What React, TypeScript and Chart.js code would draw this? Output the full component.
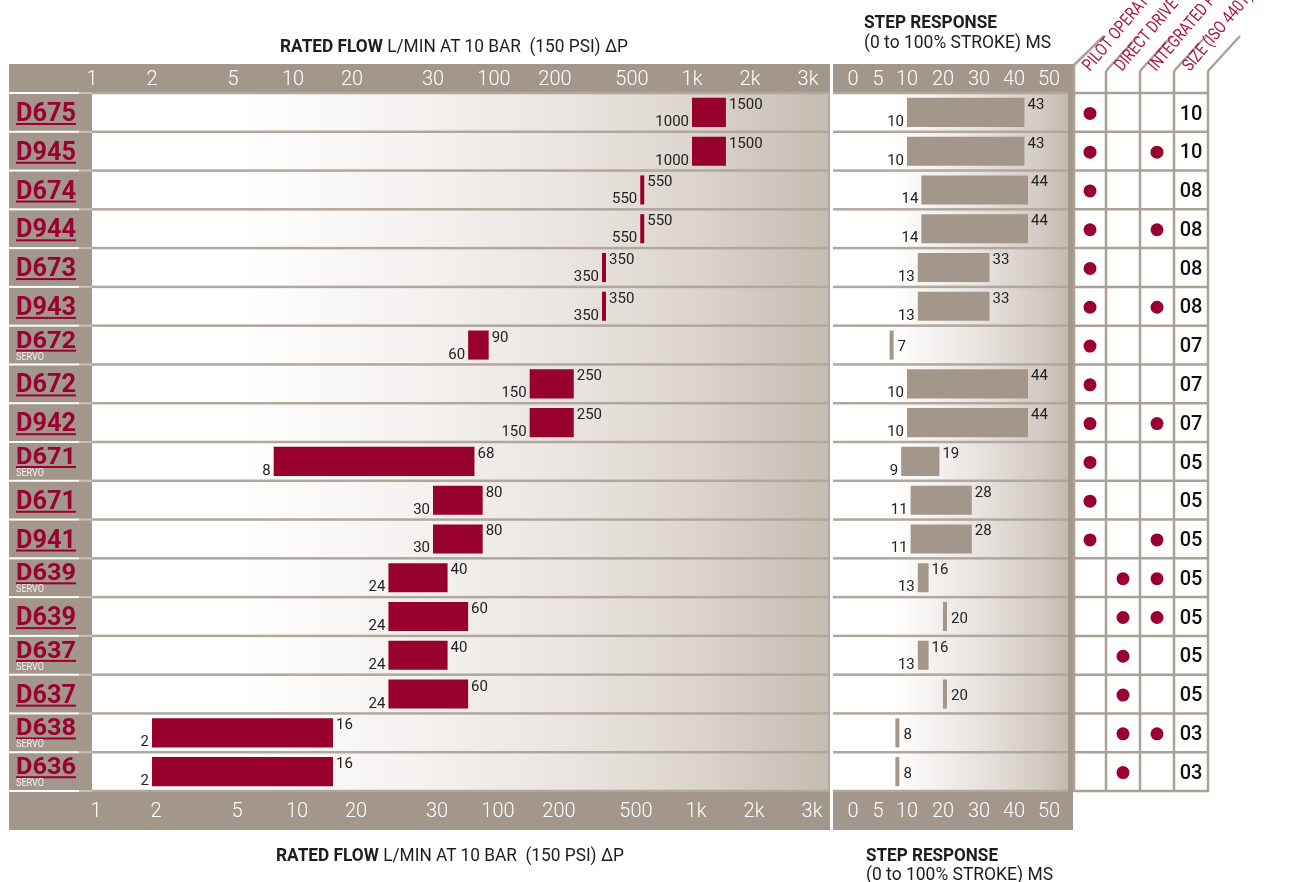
import React, { useEffect, useRef } from 'react';
import { Chart, registerables } from 'chart.js';

Chart.register(...registerables);

// ---------------- data ----------------
const MODELS = ['D675', 'D945', 'D674', 'D944', 'D673', 'D943', 'D672', 'D672', 'D942', 'D671', 'D671', 'D941', 'D639', 'D639', 'D637', 'D637', 'D638', 'D636'];
const SERVO = [false, false, false, false, false, false, true, false, false, true, false, false, true, false, true, false, true, true];
const FLOW_MIN = [1000, 1000, 550, 550, 350, 350, 60, 150, 150, 8, 30, 30, 24, 24, 24, 24, 2, 2];
const FLOW_MAX = [1500, 1500, 550, 550, 350, 350, 90, 250, 250, 68, 80, 80, 40, 60, 40, 60, 16, 16];
const STEP_MIN = [10, 10, 14, 14, 13, 13, 7, 10, 10, 9, 11, 11, 13, 20, 13, 20, 8, 8];
const STEP_MAX = [43, 43, 44, 44, 33, 33, 7, 44, 44, 19, 28, 28, 16, 20, 16, 20, 8, 8];
const PILOT = [1, 1, 1, 1, 1, 1, 1, 1, 1, 1, 1, 1, 0, 0, 0, 0, 0, 0];
const DIRECT = [0, 0, 0, 0, 0, 0, 0, 0, 0, 0, 0, 0, 1, 1, 1, 1, 1, 1];
const INTEGRATED = [0, 1, 0, 1, 0, 1, 0, 0, 1, 0, 0, 1, 1, 1, 0, 0, 1, 0];
const SIZES = ['10', '10', '08', '08', '08', '08', '07', '07', '07', '05', '05', '05', '05', '05', '05', '05', '03', '03'];

const FLOW_TICKS = [1, 2, 5, 10, 20, 30, 100, 200, 500, 1000, 2000, 3000];
const FLOW_TICK_LABELS = ['1', '2', '5', '10', '20', '30', '100', '200', '500', '1k', '2k', '3k'];
const STEP_TICKS = [0, 5, 10, 20, 30, 40, 50];
const STEP_TICK_LABELS = ['0', '5', '10', '20', '30', '40', '50'];

const COLUMN_HEADERS = ['PILOT OPERATED', 'DIRECT DRIVE VALVES', 'INTEGRATED PRESSURE CONTROL', 'SIZE (ISO 4401)'];

// ---------------- axis geometry (non-uniform broken axes) ----------------
const FLOW_AXIS_STOPS = [0, 60, 141, 201, 260, 341, 402, 463, 540, 600, 658, 716];
const FLOW_AXIS_MAX = 738;
const STEP_AXIS_STOPS = [20, 45, 74, 110, 146, 181, 216];
const STEP_AXIS_MAX = 235;

// ---------------- styles ----------------
const BAND = '#a3978b';
const RED = '#98002e';
const SEP = '#b1a79d';
const INK = '#1d1d1b';
const LABEL_RED = '#990033';
const HEAD_RED = '#ad1545';

const ROW_TOP = 93;
const ROW_BOTTOM = 791;
const ROW_H = (ROW_BOTTOM - ROW_TOP) / MODELS.length;
const TABLE_X = [1074, 1106, 1140, 1174, 1208];

function flowToAxis(v: number) {
  for (let i = 0; i < FLOW_TICKS.length - 1; i++) {
    const a = FLOW_TICKS[i], b = FLOW_TICKS[i + 1];
    if (v >= a && v <= b) {
      const t = Math.log(v / a) / Math.log(b / a);
      return FLOW_AXIS_STOPS[i] + t * (FLOW_AXIS_STOPS[i + 1] - FLOW_AXIS_STOPS[i]);
    }
  }
  return v < FLOW_TICKS[0] ? FLOW_AXIS_STOPS[0] : FLOW_AXIS_STOPS[FLOW_AXIS_STOPS.length - 1];
}

function stepToAxis(v: number) {
  for (let i = 0; i < STEP_TICKS.length - 1; i++) {
    const a = STEP_TICKS[i], b = STEP_TICKS[i + 1];
    if (v >= a && v <= b) {
      const t = (v - a) / (b - a);
      return STEP_AXIS_STOPS[i] + t * (STEP_AXIS_STOPS[i + 1] - STEP_AXIS_STOPS[i]);
    }
  }
  return STEP_AXIS_STOPS[STEP_AXIS_STOPS.length - 1];
}

function makeAxis(position: string, labels: string[], stops: number[], max: number, height: number, padding: number, labelOffset: number) {
  return {
    type: 'linear',
    position,
    min: 0,
    max,
    grid: { display: false, drawTicks: false },
    border: { display: false },
    afterBuildTicks: (scale: any) => {
      scale.ticks = stops.map((v) => ({ value: v }));
    },
    afterFit: (scale: any) => {
      scale.height = height;
    },
    ticks: {
      autoSkip: false,
      maxRotation: 0,
      minRotation: 0,
      padding,
      labelOffset,
      color: '#ffffff',
      font: { family: 'Roboto', size: 20, weight: '300' },
      callback: (_v: any, i: number) => labels[i],
    },
  };
}

function panelPlugin(gradientStops: [number, string][], labelColumn: boolean, rightEdge: boolean) {
  return {
    id: 'panelBg',
    beforeDraw(chart: any) {
      const { ctx, chartArea: a, width, height } = chart;
      const ys = chart.scales.y;
      ctx.save();
      ctx.fillStyle = BAND;
      ctx.fillRect(0, 0, width, height);
      const g = ctx.createLinearGradient(a.left, 0, a.right, 0);
      gradientStops.forEach(([o, c]) => g.addColorStop(o, c));
      ctx.fillStyle = g;
      ctx.fillRect(a.left, a.top, a.right - a.left, a.bottom - a.top);
      const n = MODELS.length;
      for (let i = 0; i <= n; i++) {
        const y = i === 0 ? a.top : i === n ? a.bottom : (ys.getPixelForValue(i - 1) + ys.getPixelForValue(i)) / 2;
        ctx.fillStyle = SEP;
        ctx.fillRect(a.left, y - 1.25, a.right - a.left, 2.5);
        if (labelColumn) {
          ctx.fillStyle = '#ffffff';
          ctx.fillRect(0, y - 1, 70, 2);
          ctx.fillStyle = '#c9c1b9';
          ctx.fillRect(70, y - 1, a.left - 70, 2);
        }
      }
      if (rightEdge) {
        ctx.fillStyle = SEP;
        ctx.fillRect(a.right - 2, a.top, 2, a.bottom - a.top);
      }
      ctx.restore();
    },
  };
}

function valueLabelPlugin(lo: number[], hi: number[], singleWhenEqual: boolean) {
  return {
    id: 'valueLabels',
    afterDatasetsDraw(chart: any) {
      const { ctx } = chart;
      const meta = chart.getDatasetMeta(0);
      ctx.save();
      ctx.font = '15px Roboto';
      ctx.fillStyle = '#222222';
      meta.data.forEach((bar: any, i: number) => {
        const { x, base, y, height } = bar.getProps(['x', 'base', 'y', 'height'], true);
        const left = Math.min(x, base);
        const right = Math.max(x, base);
        const top = y - height / 2;
        const bottom = y + height / 2;
        if (singleWhenEqual && lo[i] === hi[i]) {
          ctx.textAlign = 'left';
          ctx.textBaseline = 'alphabetic';
          ctx.fillText(String(hi[i]), right + 4, y + 6);
        } else {
          ctx.textBaseline = 'alphabetic';
          ctx.textAlign = 'right';
          ctx.fillText(String(lo[i]), left - 3, bottom - 1);
          ctx.textAlign = 'left';
          ctx.fillText(String(hi[i]), right + 3, top + 11);
        }
      });
      ctx.restore();
    },
  };
}

function barConfig(data: number[][], color: string, xTop: any, xBottom: any, padding: any, plugins: any[]) {
  return {
    type: 'bar',
    data: {
      labels: MODELS,
      datasets: [
        {
          data,
          backgroundColor: color,
          borderWidth: 0,
          barPercentage: 0.75,
          categoryPercentage: 1,
          minBarLength: 4,
          xAxisID: 'x',
        },
      ],
    },
    options: {
      indexAxis: 'y',
      animation: false,
      responsive: false,
      maintainAspectRatio: false,
      events: [],
      layout: { padding },
      plugins: { legend: { display: false }, tooltip: { enabled: false } },
      scales: {
        x: xTop,
        x2: xBottom,
        y: { type: 'category', display: false, offset: true },
      },
    },
    plugins,
  };
}

export default function App() {
  const flowRef = useRef<HTMLCanvasElement>(null);
  const stepRef = useRef<HTMLCanvasElement>(null);

  useEffect(() => {
    const flowData = FLOW_MIN.map((v, i) => [flowToAxis(v), flowToAxis(FLOW_MAX[i])]);
    const stepData = STEP_MIN.map((v, i) => [stepToAxis(v), stepToAxis(STEP_MAX[i])]);
    const flow = new Chart(
      flowRef.current as HTMLCanvasElement,
      barConfig(
        flowData,
        RED,
        makeAxis('top', FLOW_TICK_LABELS, FLOW_AXIS_STOPS, FLOW_AXIS_MAX, 29, 1, 0),
        makeAxis('bottom', FLOW_TICK_LABELS, FLOW_AXIS_STOPS, FLOW_AXIS_MAX, 39, 9, 4),
        { left: 83, right: 0, top: 0, bottom: 0 },
        [
          panelPlugin([[0, '#ffffff'], [0.2, '#ffffff'], [0.45, '#f4f1ef'], [0.64, '#eae5e1'], [0.82, '#dcd5ce'], [1, '#c5bbb1']], true, true),
          valueLabelPlugin(FLOW_MIN, FLOW_MAX, false),
        ],
      ) as any,
    );
    const step = new Chart(
      stepRef.current as HTMLCanvasElement,
      barConfig(
        stepData,
        BAND,
        makeAxis('top', STEP_TICK_LABELS, STEP_AXIS_STOPS, STEP_AXIS_MAX, 29, 1, 0),
        makeAxis('bottom', STEP_TICK_LABELS, STEP_AXIS_STOPS, STEP_AXIS_MAX, 39, 9, 0),
        { left: 0, right: 5, top: 0, bottom: 0 },
        [
          panelPlugin([[0, '#ffffff'], [0.25, '#ffffff'], [0.6, '#e9e5e1'], [0.88, '#d3cbc4'], [1, '#c4bab0']], false, false),
          valueLabelPlugin(STEP_MIN, STEP_MAX, true),
        ],
      ) as any,
    );
    return () => {
      flow.destroy();
      step.destroy();
    };
  }, []);

  const rowTop = (i: number) => ROW_TOP + i * ROW_H;
  const colCenter = (c: number) => (TABLE_X[c] + TABLE_X[c + 1]) / 2;
  const flags = [PILOT, DIRECT, INTEGRATED];

  return (
    <div style={{ position: 'absolute', left: 0, top: 0, width: 1311, height: 882, background: '#ffffff', overflow: 'hidden' }}>
      <canvas ref={flowRef} width={821} height={766} style={{ position: 'absolute', left: 9, top: 64, width: 821, height: 766 }} />
      <canvas ref={stepRef} width={240} height={766} style={{ position: 'absolute', left: 833, top: 64, width: 240, height: 766 }} />
      <svg width={1311} height={882} style={{ position: 'absolute', left: 0, top: 0 }} fontFamily="Roboto">
        {/* titles */}
        <text x={280} y={52} textLength={348} lengthAdjust="spacingAndGlyphs" fontSize={18.5} fill={INK} style={{ whiteSpace: 'pre' }}>
          <tspan fontWeight="bold">RATED FLOW</tspan>
          {' L/MIN AT 10 BAR  (150 PSI) ΔP'}
        </text>
        <text x={276} y={861} textLength={348} lengthAdjust="spacingAndGlyphs" fontSize={18.5} fill={INK} style={{ whiteSpace: 'pre' }}>
          <tspan fontWeight="bold">RATED FLOW</tspan>
          {' L/MIN AT 10 BAR  (150 PSI) ΔP'}
        </text>
        <text x={864} y={28} textLength={133} lengthAdjust="spacingAndGlyphs" fontSize={17.5} fontWeight="bold" fill={INK}>STEP RESPONSE</text>
        <text x={864} y={48} textLength={187} lengthAdjust="spacingAndGlyphs" fontSize={17.5} fill={INK}>(0 to 100% STROKE) MS</text>
        <text x={866} y={861} textLength={132} lengthAdjust="spacingAndGlyphs" fontSize={17.5} fontWeight="bold" fill={INK}>STEP RESPONSE</text>
        <text x={866} y={880} textLength={187} lengthAdjust="spacingAndGlyphs" fontSize={17.5} fill={INK}>(0 to 100% STROKE) MS</text>

        {/* model labels */}
        {MODELS.map((m, i) => {
          const t = rowTop(i);
          const servo = SERVO[i];
          const base = servo ? t + 22 : t + 28;
          return (
            <g key={'m' + i}>
              <text x={16} y={base} textLength={60} lengthAdjust="spacingAndGlyphs" fontSize={servo ? 23.5 : 26} fontWeight="bold" fill={LABEL_RED}>{m}</text>
              <rect x={16} y={base + 2} width={60} height={2} fill={LABEL_RED} />
              {servo && (
                <text x={16} y={t + 34} textLength={28} lengthAdjust="spacingAndGlyphs" fontSize={10} fill="#f4f1ee">SERVO</text>
              )}
            </g>
          );
        })}

        {/* table */}
        <g stroke="#aca195" strokeWidth={2.5} fill="none">
          <line x1={TABLE_X[0]} y1={64} x2={TABLE_X[0]} y2={ROW_BOTTOM + 1} />
          <line x1={TABLE_X[0]} y1={65} x2={TABLE_X[0] + 30} y2={36} />
          {TABLE_X.slice(1).map((x, k) => (
            <g key={'v' + k}>
              <line x1={x} y1={71} x2={x} y2={ROW_BOTTOM + 1} />
              <line x1={x} y1={71} x2={x + 32} y2={36} />
            </g>
          ))}
          {MODELS.map((_, i) => (
            <line key={'h' + i} x1={TABLE_X[0]} y1={rowTop(i)} x2={TABLE_X[4] + 1} y2={rowTop(i)} />
          ))}
          <line x1={TABLE_X[0]} y1={ROW_BOTTOM} x2={TABLE_X[4] + 1} y2={ROW_BOTTOM} />
        </g>
        {COLUMN_HEADERS.map((h, k) => (
          <text
            key={'ch' + k}
            transform={`translate(${TABLE_X[k] + 16},${72}) rotate(-50) scale(0.8,1)`}
            fontSize={17.5}
            fill={HEAD_RED}
          >
            {h}
          </text>
        ))}
        {MODELS.map((_, i) =>
          flags.map((f, c) =>
            f[i] ? <circle key={`d${i}-${c}`} cx={colCenter(c)} cy={rowTop(i) + ROW_H / 2 + 1} r={6.5} fill={RED} /> : null,
          ),
        )}
        {SIZES.map((s, i) => (
          <text key={'s' + i} x={colCenter(3)} y={rowTop(i) + 26.5} textAnchor="middle" fontSize={20} fontWeight={500} fill="#111111">{s}</text>
        ))}
      </svg>
    </div>
  );
}
